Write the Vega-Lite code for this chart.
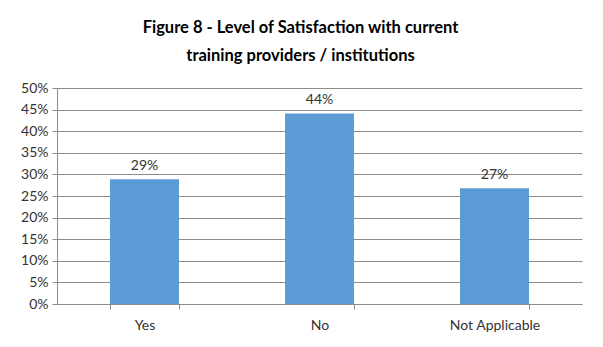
{
  "$schema": "https://vega.github.io/schema/vega-lite/v6.json",
  "width": 525,
  "height": 216,
  "autosize": {"type": "none"},
  "padding": {"left": 57, "top": 88, "right": 21, "bottom": 43},
  "background": "white",
  "title": {
    "text": ["Figure 8 - Level of Satisfaction with current", "training providers  / institutions"],
    "font": "Lato",
    "fontSize": 16.5,
    "fontWeight": "bold",
    "color": "#000000",
    "lineHeight": 28,
    "anchor": "middle",
    "dx": -19,
    "offset": 17
  },
  "data": {
    "values": [
      {"response": "Yes", "share": 0.289, "label": "29%"},
      {"response": "No", "share": 0.441, "label": "44%"},
      {"response": "Not  Applicable", "share": 0.268, "label": "27%"}
    ]
  },
  "encoding": {
    "x": {
      "field": "response",
      "type": "nominal",
      "sort": null,
      "scale": {"paddingInner": 0.606, "paddingOuter": 0.303},
      "axis": {
        "title": null,
        "labelAngle": 0,
        "labelFont": "Lato",
        "labelFontSize": 14,
        "labelColor": "#333333",
        "labelPadding": 9,
        "domainColor": "#8c8c8c",
        "tickColor": "#8c8c8c",
        "tickBand": "extent",
        "tickSize": 5,
        "grid": false
      }
    },
    "y": {
      "field": "share",
      "type": "quantitative",
      "scale": {"domain": [0, 0.5], "nice": false},
      "axis": {
        "title": null,
        "format": ".0%",
        "values": [0, 0.05, 0.1, 0.15, 0.2, 0.25, 0.3, 0.35, 0.4, 0.45, 0.5],
        "labelFont": "Lato",
        "labelFontSize": 14,
        "labelColor": "#333333",
        "labelPadding": 4,
        "domainColor": "#8c8c8c",
        "tickColor": "#8c8c8c",
        "tickSize": 5,
        "gridColor": "#8c8c8c",
        "gridWidth": 1
      }
    }
  },
  "layer": [
    {"mark": {"type": "bar", "color": "#5B9BD5"}},
    {
      "mark": {"type": "text", "baseline": "bottom", "dy": -6, "font": "Lato", "fontSize": 14, "color": "#333333"},
      "encoding": {"text": {"field": "label"}}
    }
  ],
  "config": {"view": {"stroke": null}}
}
